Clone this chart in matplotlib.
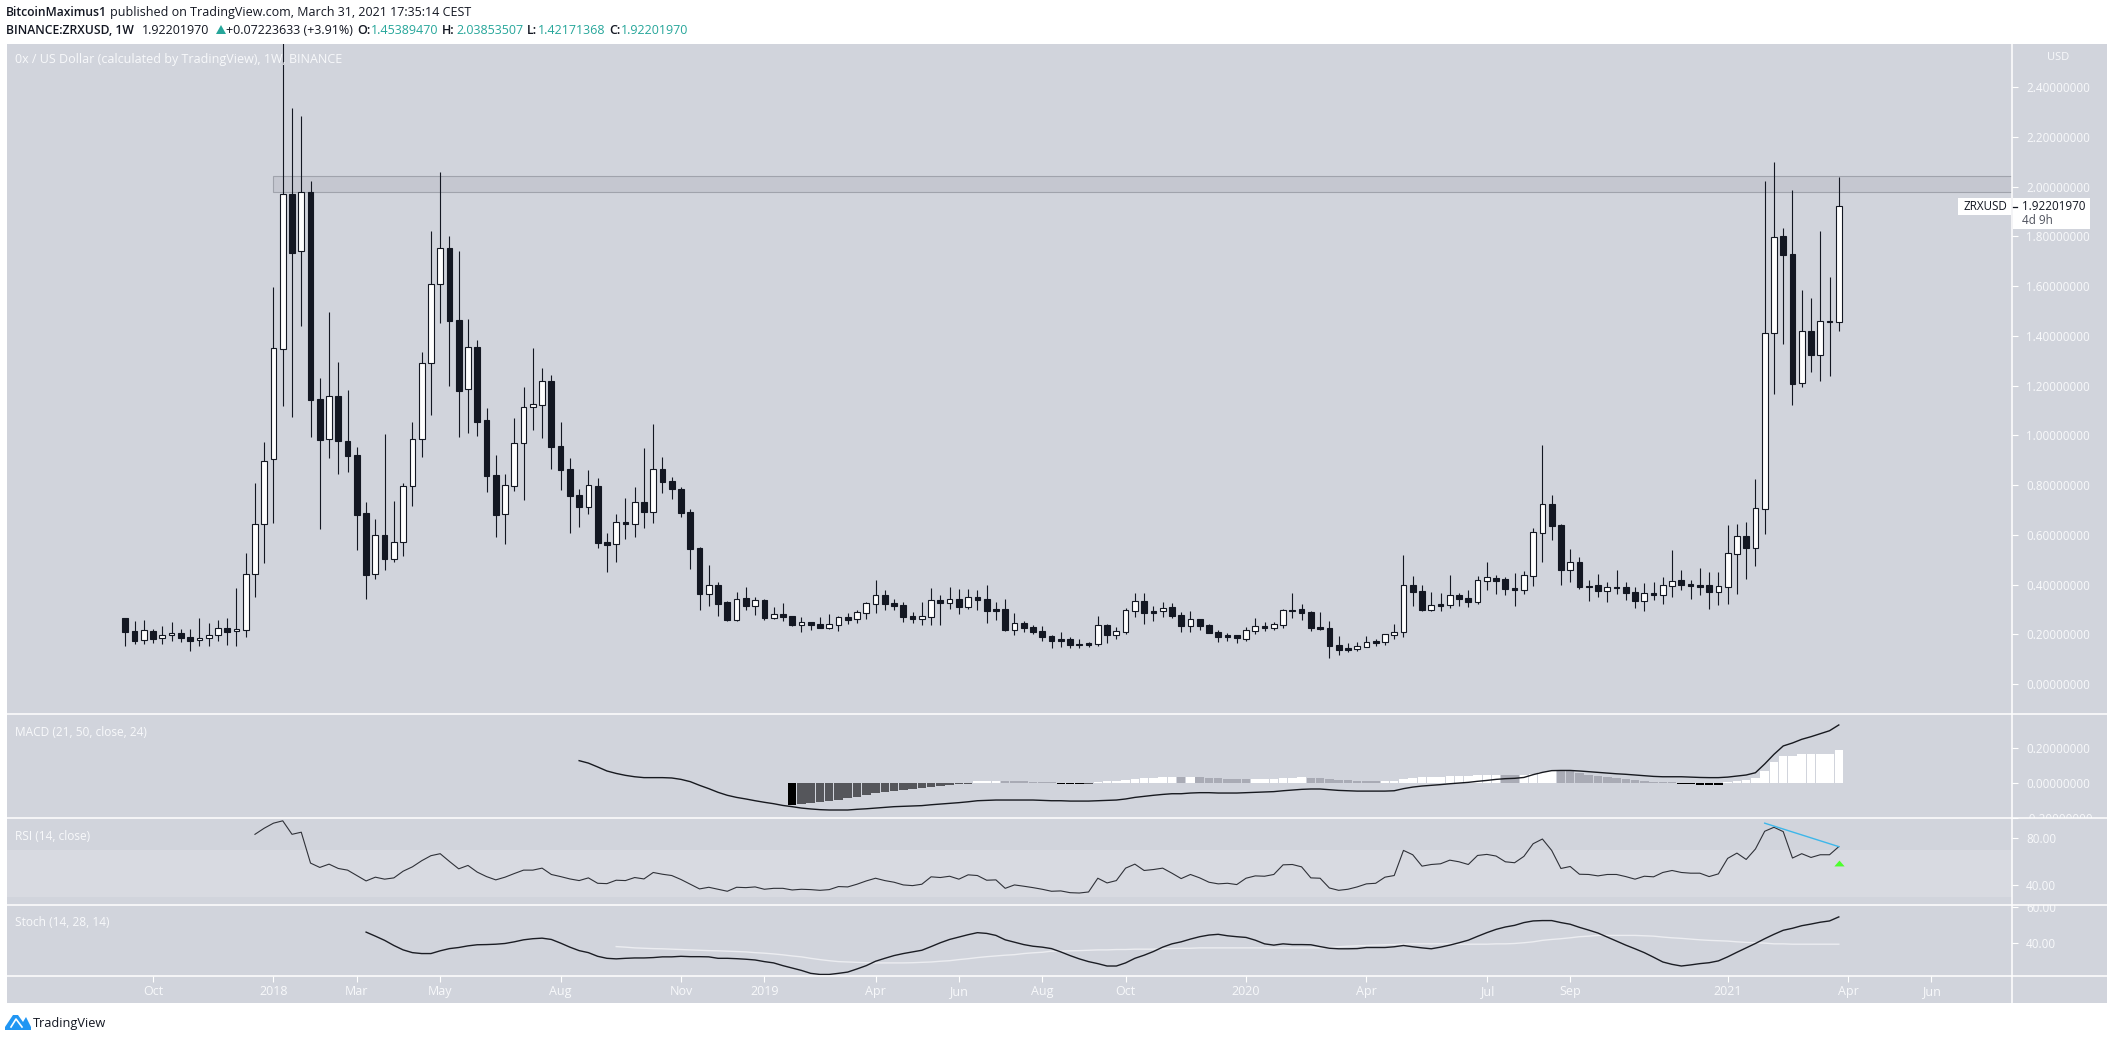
import matplotlib
matplotlib.use('Agg')
import matplotlib.pyplot as plt
from matplotlib.lines import Line2D
from matplotlib.patches import Rectangle, Polygon
from matplotlib.transforms import Bbox
import numpy as np

W, H = 2107, 1041
BG = '#D1D4DC'
DARK = '#131722'
SOFT = '#F8F9FB'
TEAL = '#26A69A'
plt.rcParams['font.family'] = ['Open Sans', 'DejaVu Sans']

# weekly candles, first one is the week of 11 Sep 2017
opens = [.2655,.212,.176,.213,.184,.196,.204,.188,.176,.184,
    .196,.224,.212,.216,.441,.642,.904,1.348,1.970,1.741,
    1.979,1.145,.984,1.157,.976,.920,.687,.441,.598,.504,
    .570,.795,.984,1.290,1.608,1.754,1.464,1.185,1.354,1.062,
    .840,.683,.798,.968,1.113,1.121,1.218,.956,.864,.759,
    .711,.797,.570,.562,.650,.642,.731,.693,.864,.817,
    .783,.691,.545,.361,.397,.330,.259,.345,.315,.337,
    .267,.282,.274,.239,.248,.240,.226,.239,.268,.263,
    .287,.323,.357,.325,.317,.274,.263,.271,.337,.327,
    .342,.310,.350,.341,.302,.300,.217,.244,.229,.213,
    .193,.181,.181,.161,.165,.162,.236,.197,.209,.295,
    .333,.294,.292,.310,.278,.233,.260,.237,.209,.197,
    .197,.182,.214,.233,.226,.239,.298,.302,.290,.229,
    .225,.157,.145,.142,.150,.173,.170,.198,.208,.398,
    .374,.299,.322,.319,.358,.346,.331,.416,.426,.422,
    .386,.379,.435,.608,.724,.640,.460,.491,.394,.398,
    .375,.390,.390,.370,.335,.366,.359,.395,.418,.402,
    .398,.398,.371,.391,.524,.595,.548,.705,1.411,1.802,
    1.730,1.212,1.420,1.325,1.459,1.4539]
closes = [.210,.174,.216,.182,.196,.204,.186,.174,.184,.196,
    .224,.210,.220,.441,.642,.896,1.352,1.970,1.735,1.978,
    1.144,.983,1.157,.979,.918,.681,.440,.598,.504,.570,
    .797,.984,1.290,1.608,1.753,1.461,1.180,1.354,1.055,.838,
    .681,.799,.968,1.113,1.125,1.218,.955,.862,.757,.713,
    .799,.568,.560,.650,.645,.731,.693,.864,.814,.786,
    .689,.544,.363,.397,.323,.257,.341,.315,.337,.266,
    .280,.270,.239,.248,.237,.225,.240,.268,.257,.288,
    .325,.357,.323,.314,.271,.263,.274,.337,.326,.341,
    .311,.349,.338,.294,.294,.217,.244,.225,.209,.189,
    .173,.173,.157,.157,.157,.236,.197,.212,.296,.333,
    .286,.286,.305,.274,.233,.260,.233,.205,.189,.189,
    .185,.216,.232,.225,.240,.296,.294,.287,.226,.221,
    .153,.137,.137,.152,.168,.165,.200,.208,.397,.370,
    .298,.317,.314,.357,.342,.330,.417,.429,.414,.382,
    .378,.437,.610,.723,.636,.459,.490,.390,.390,.374,
    .389,.386,.366,.334,.365,.358,.397,.413,.398,.394,
    .390,.370,.393,.526,.594,.547,.707,1.411,1.797,1.726,
    1.207,1.419,1.324,1.459,1.454,1.9220]
highs = [.2655,.253,.257,.220,.233,.249,.220,.220,.2655,.244,
    .257,.2655,.386,.526,.807,.972,1.597,2.60,2.318,2.285,
    2.024,1.230,1.497,1.294,1.181,.952,.731,.664,1.006,.736,
    .807,1.053,1.334,1.822,2.058,1.802,1.742,1.468,1.384,1.109,
    .920,.844,1.069,1.194,1.351,1.270,1.243,1.053,.908,.783,
    .860,.827,.607,.684,.747,.793,.949,1.046,.912,.833,
    .791,.703,.550,.479,.409,.333,.369,.389,.349,.342,
    .310,.325,.275,.268,.250,.268,.280,.274,.284,.296,
    .330,.418,.377,.341,.330,.290,.330,.386,.357,.390,
    .382,.382,.377,.398,.330,.341,.284,.252,.237,.233,
    .197,.209,.189,.181,.169,.274,.241,.229,.306,.366,
    .366,.314,.330,.326,.290,.294,.260,.241,.217,.205,
    .197,.229,.266,.249,.249,.302,.366,.322,.294,.290,
    .253,.193,.165,.169,.193,.181,.200,.241,.519,.434,
    .398,.370,.366,.438,.366,.378,.434,.491,.438,.430,
    .447,.455,.628,.961,.760,.644,.543,.511,.418,.443,
    .410,.459,.410,.390,.406,.410,.430,.539,.459,.418,
    .467,.451,.451,.640,.644,.652,.825,2.024,2.099,1.833,
    1.987,1.584,1.553,1.822,1.637,2.0385]
lows = [.154,.162,.162,.166,.162,.174,.170,.134,.154,.154,
    .174,.158,.154,.190,.351,.488,.646,1.120,1.075,1.441,
    .994,.625,.910,.846,.854,.539,.343,.424,.459,.491,
    .515,.717,.913,1.083,1.453,1.200,.994,1.010,.999,.774,
    .593,.564,.778,.741,1.023,.990,.865,.780,.609,.633,
    .685,.548,.452,.492,.585,.593,.629,.649,.770,.745,
    .673,.464,.298,.314,.275,.253,.253,.298,.278,.257,
    .262,.253,.233,.209,.217,.224,.221,.213,.241,.245,
    .262,.286,.298,.298,.249,.245,.237,.237,.237,.302,
    .282,.302,.298,.245,.257,.213,.197,.209,.201,.173,
    .145,.149,.145,.145,.149,.153,.165,.181,.201,.270,
    .241,.253,.270,.266,.209,.209,.217,.205,.169,.173,
    .165,.173,.201,.213,.217,.225,.266,.257,.213,.217,
    .105,.117,.129,.133,.150,.153,.157,.181,.189,.314,
    .294,.294,.294,.306,.314,.310,.322,.378,.362,.358,
    .314,.362,.394,.491,.579,.398,.410,.382,.334,.350,
    .330,.362,.338,.306,.294,.338,.322,.350,.378,.342,
    .358,.302,.318,.322,.362,.422,.475,.603,1.167,1.369,
    1.122,1.195,1.255,1.220,1.239,1.4217]

# MACD line starts at week 49, histogram at week 72
macd_start = 49
macd = [.126,.112,.090,.067,.053,.042,.034,.029,.029,.029,.027,.019,.006,-.015,-.034,-.055,-.072,-.084,-.093,-.103,
    -.112,-.120,-.130,-.137,-.145,-.150,-.154,-.156,-.156,-.156,-.152,-.149,-.145,-.141,
    -.137,-.135,-.133,-.131,-.126,-.122,-.118,-.114,-.109,-.103,-.101,-.099,-.099,-.099,-.099,-.099,
    -.101,-.103,-.103,-.105,-.105,-.105,-.103,-.101,-.099,-.093,-.084,-.078,-.072,-.067,-.063,-.063,-.059,-.057,-.057,
    -.059,-.059,-.059,-.057,-.055,-.053,-.051,-.046,-.042,-.038,-.036,-.036,-.040,-.044,-.046,-.048,-.048,-.048,-.048,
    -.046,-.034,-.025,-.019,-.015,-.011,-.006,-.002,.002,.008,.013,.019,.023,.025,.030,
    .046,.059,.069,.070,.070,.067,.063,.059,.055,.051,.048,.044,.040,.036,.034,.034,.034,.032,.030,.029,.029,
    .032,.038,.044,.057,.107,.162,.210,.227,.248,.263,.280,.297,.330]
hist_start = 72
hist = [-.128,-.122,-.116,-.110,-.105,-.099,-.088,-.082,-.070,-.061,-.053,-.048,-.042,-.036,-.030,-.025,-.019,-.013,-.008,-.006,
    .010,.010,.010,.010,.010,.010,.006,.006,.006,-.006,-.006,-.006,-.006,.006,.010,.010,.015,.021,.027,.027,
    .034,.034,.034,.034,.034,.027,.027,.021,.021,.021,.021,.021,.021,.027,.027,.034,.027,.027,.021,.015,
    .015,.010,.010,.010,.010,.010,.021,.027,.034,.034,.034,.040,.040,.040,.046,.046,.046,.046,.046,.046,
    .051,.059,.065,.065,.065,.053,.046,.040,.034,.027,.021,.015,.010,.006,.006,.006,-.006,-.006,-.011,-.011,-.011,
    .006,.010,.015,.027,.065,.118,.152,.152,.164,.164,.164,.164,.187]
hist_black_weeks = [72,101,102,103,168,169,170,171,172]
hist_grey_weeks = [95,96,97,98,99,100,114,116,117,118,119,120,121,128,129,130,131,132,133,134,135,149,150,
    155,156,157,158,159,160,161,162,163,164,165,166,167]

rsi_start = 14
rsi = [83.1,88.3,92.6,94.6,83.1,84.9,58.6,54.9,57.7,54.0,52.6,48.0,43.4,46.6,44.9,46.0,51.7,55.4,60.6,64.9,
    66.6,60.0,53.7,56.6,50.9,47.1,44.3,46.6,49.7,52.6,52.6,54.3,48.9,47.1,
    45.1,43.7,46.0,41.4,41.1,44.0,43.7,46.3,45.1,50.6,49.1,48.0,44.6,40.6,36.6,38.0,36.3,34.6,38.0,37.7,38.3,
    36.3,37.1,37.1,35.7,36.3,36.0,35.4,36.0,38.6,38.3,40.6,43.4,45.7,43.7,
    42.3,40.0,39.4,40.6,46.9,46.3,47.4,44.9,48.6,48.0,44.0,44.3,37.1,40.0,38.9,37.7,36.3,34.6,34.9,33.4,33.1,34.0,
    45.7,41.7,43.7,54.3,57.7,52.3,53.1,54.3,50.0,45.4,48.9,46.0,42.3,
    40.9,41.4,40.3,45.7,47.7,47.4,48.9,57.1,57.4,55.4,46.0,45.7,37.4,35.4,36.3,38.3,40.9,41.4,46.6,48.0,
    69.4,65.7,56.0,57.4,58.0,61.1,59.7,57.4,65.1,66.0,64.6,59.7,58.9,64.3,
    75.1,79.1,69.4,54.0,55.7,49.1,48.9,47.7,48.9,48.9,47.1,44.9,47.4,46.9,50.6,52.3,50.6,50.0,50.0,47.1,49.4,
    62.6,67.1,61.7,70.6,85.7,89.1,85.4,62.9,66.6,63.4,65.7,65.7,72.6]
rsi_trend_weeks = [177, 185]
rsi_trend_vals = [92.6, 72.6]

stoch_k_start = 26
stoch_k = [46.2,44.0,41.7,38.9,36.5,35.0,34.5,34.5,36.0,37.2,37.8,38.7,39.3,39.4,39.6,40.0,40.9,42.0,42.6,42.9,42.2,40.2,38.0,
    36.1,35.0,33.0,31.9,31.6,31.9,32.1,32.1,32.3,32.7,32.7,33.0,32.8,32.8,32.7,31.9,31.9,31.7,31.4,31.0,30.1,29.4,
    27.9,26.6,25.3,23.7,23.1,23.1,23.7,24.4,26.1,27.9,30.3,31.9,
    33.4,34.5,35.4,36.3,38.3,40.4,42.2,43.5,44.8,45.9,45.5,44.4,42.0,40.7,39.4,38.5,38.0,37.2,35.4,33.4,31.6,30.1,
    29.0,27.7,27.7,29.4,31.9,33.6,35.6,38.0,39.8,40.9,42.4,43.7,44.6,
    45.0,44.2,43.7,43.3,41.8,39.8,39.1,39.8,39.4,39.4,39.3,38.3,37.4,37.1,37.1,37.2,37.8,37.8,37.8,38.2,38.9,38.2,
    37.6,37.1,38.0,39.1,40.4,41.8,43.9,45.9,47.7,49.0,49.9,51.4,
    52.3,52.5,52.5,51.4,50.5,48.8,47.3,45.7,43.5,41.3,39.1,37.1,35.0,32.5,29.9,28.6,27.7,28.3,29.0,29.5,30.5,
    32.7,35.2,37.6,40.0,42.6,45.0,47.2,48.3,49.7,50.6,51.6,52.3,54.5]
stoch_d_start = 53
stoch_d = [38.3,38.0,37.6,37.4,37.2,37.1,36.9,36.7,36.5,36.3,36.1,36.0,35.8,35.6,35.4,35.0,34.7,34.3,33.8,33.2,
    32.7,31.9,31.2,30.6,30.1,29.9,29.7,29.5,29.4,29.4,
    29.4,29.4,29.5,29.7,29.9,30.3,30.6,31.2,31.7,32.3,32.8,33.2,33.6,33.9,34.5,34.9,35.2,35.8,35.8,36.0,
    36.1,36.3,36.5,36.5,36.7,36.7,36.9,36.9,36.9,37.1,37.2,37.4,37.4,37.6,37.6,
    37.6,37.6,37.6,37.6,37.6,37.6,37.6,37.6,37.6,37.6,37.6,37.6,37.8,38.2,38.5,38.7,38.9,39.1,39.3,39.4,39.6,
    39.8,39.8,39.8,39.8,39.8,39.6,39.6,39.6,39.6,39.8,39.8,40.0,40.4,
    40.9,41.7,42.2,42.6,43.1,43.7,44.0,44.4,44.4,44.4,44.4,44.4,44.2,44.0,43.5,43.1,42.8,42.4,42.0,41.7,41.5,
    41.3,40.9,40.6,40.4,40.2,39.8,39.8,39.6,39.6,39.6,39.6,39.6,39.6]

# resistance box, price range
zone_low, zone_high = 1.980, 2.043
zone_start = 16

price_ticks = [0, .2, .4, .6, .8, 1.0, 1.2, 1.4, 1.6, 1.8, 2.0, 2.2, 2.4]
macd_ticks = [-.2, 0, .2]
rsi_ticks = [40, 80]
stoch_ticks = [40, 60]
date_weeks = [3, 16, 25, 34, 47, 60, 69, 81, 90, 99, 108, 121, 134, 147, 156, 173, 186, 195]
date_labels = ['Oct', '2018', 'Mar', 'May', 'Aug', 'Nov', '2019', 'Apr', 'Jun', 'Aug', 'Oct',
    '2020', 'Apr', 'Jul', 'Sep', '2021', 'Apr', 'Jun']

weeks = np.arange(len(opens))
opens, closes, highs, lows = map(np.asarray, (opens, closes, highs, lows))

fig = plt.figure(figsize=(W / 100, H / 100), dpi=100, facecolor='white')


def px_axes(left, top, right, bottom):
    return fig.add_axes([left / W, 1 - bottom / H, (right - left) / W, (bottom - top) / H], facecolor=BG)


def px_text(x, y, s, **kw):
    kw.setdefault('va', 'center')
    kw.setdefault('fontsize', 9)
    return fig.text(x / W, 1 - y / H, s, **kw)


def style_axis(ax, ylim, yticks, fmt, top, bottom):
    ax.set_xlim(-12.77, 203.7)
    ax.set_ylim(*ylim)
    for side in ax.spines:
        ax.spines[side].set_visible(False)
    ax.yaxis.tick_right()
    ax.set_yticks(yticks)
    ax.set_yticklabels([fmt % v for v in yticks])
    ax.tick_params(axis='y', length=4, width=0.8, color='white', labelcolor=SOFT, labelsize=8.4, pad=6)
    ax.set_xticks([])
    # labels on the pane border get cut off like in the app
    clip = Bbox.from_extents(2013, H - bottom, W, H - top)
    for tick in ax.yaxis.get_major_ticks():
        tick.label2.set_clip_box(clip)
        tick.label2.set_clip_on(True)


fig.add_artist(Rectangle((7 / W, 1 - 1003 / H), (W - 7) / W, (1003 - 44) / H, transform=fig.transFigure,
    facecolor=BG, edgecolor='none', zorder=-5))

# price pane
ax = px_axes(7, 44, 2012, 714)
style_axis(ax, (-.1207, 2.574), price_ticks, '%.8f', 44, 714)
ax.add_patch(Rectangle((zone_start, zone_low), 205 - zone_start, zone_high - zone_low, facecolor='#C5C7D0',
    edgecolor='#A0A3AC', linewidth=0.8, zorder=1))
ax.vlines(weeks, lows, highs, color=DARK, linewidth=0.8, zorder=2)
up = closes > opens
body_bottom = np.minimum(opens, closes)
body_height = np.abs(closes - opens)
ax.bar(weeks[up], body_height[up], bottom=body_bottom[up], width=0.62, color='white', edgecolor=DARK, linewidth=0.8, zorder=3)
ax.bar(weeks[~up], body_height[~up], bottom=body_bottom[~up], width=0.62, color=DARK, edgecolor=DARK, linewidth=0.8, zorder=3)

# MACD pane
ax_macd = px_axes(7, 714, 2012, 818)
style_axis(ax_macd, (-.2017, .3926), macd_ticks, '%.8f', 714, 818)
hist_weeks = np.arange(hist_start, hist_start + len(hist))
hist_colors = []
for wk, val in zip(hist_weeks, hist):
    if wk in hist_black_weeks:
        hist_colors.append('#000000')
    elif wk in hist_grey_weeks:
        hist_colors.append('#A9ABB5')
    elif val < 0:
        hist_colors.append('#55565B')
    else:
        hist_colors.append('#FFFFFF')
ax_macd.bar(hist_weeks, hist, width=0.92, color=hist_colors, zorder=2)
ax_macd.plot(np.arange(macd_start, macd_start + len(macd)), macd, color='#17191F', linewidth=1.0, zorder=3)

# RSI pane
ax_rsi = px_axes(7, 818, 2012, 905)
style_axis(ax_rsi, (22.9, 97), rsi_ticks, '%.2f', 818, 905)
ax_rsi.axhspan(30, 70, color='#D8DAE1', linewidth=0, zorder=1)
ax_rsi.plot(np.arange(rsi_start, rsi_start + len(rsi)), rsi, color='#2F3138', linewidth=0.8, zorder=3)
ax_rsi.plot(rsi_trend_weeks, rsi_trend_vals, color='#3DB7EA', linewidth=1.0, zorder=4)
ax_rsi.plot([185], [58.7], marker=[(-1, -.57), (1, -.57), (0, .57)], markersize=7.4, color='#4CFF2C',
    linestyle='none', markeredgewidth=0, zorder=4)

# Stoch pane
ax_stoch = px_axes(7, 905, 2012, 976)
style_axis(ax_stoch, (22.25, 61), stoch_ticks, '%.2f', 905, 976)
ax_stoch.plot(np.arange(stoch_d_start, stoch_d_start + len(stoch_d)), stoch_d, color='#ECEDF1', linewidth=1.0, zorder=2)
ax_stoch.plot(np.arange(stoch_k_start, stoch_k_start + len(stoch_k)), stoch_k, color='#1B1D24', linewidth=1.0, zorder=3)

# time axis strip
ax_time = px_axes(7, 976, 2012, 1003)
ax_time.set_xlim(-12.77, 203.7)
ax_time.set_yticks([])
for side in ax_time.spines:
    ax_time.spines[side].set_visible(False)
ax_time.set_xticks(date_weeks)
ax_time.set_xticklabels(date_labels)
ax_time.xaxis.tick_top()
ax_time.tick_params(axis='x', direction='in', length=4, width=0.8, color='white', labelcolor=SOFT, labelsize=9, pad=0)
for lbl in ax_time.get_xticklabels():
    lbl.set_transform(ax_time.get_xaxis_transform())
    lbl.set_y(0.42)
    lbl.set_va('center')
ax_time.patch.set_alpha(0)

# pane separators
for y in (714, 818, 905, 976):
    fig.add_artist(Line2D([7 / W, 1], [1 - y / H, 1 - y / H], color='white', linewidth=1.1, transform=fig.transFigure, zorder=6))
fig.add_artist(Line2D([2012 / W, 2012 / W], [1 - 44 / H, 1 - 1003 / H], color='white', linewidth=1.1, transform=fig.transFigure, zorder=6))

# last price label
fig.add_artist(Rectangle((1958 / W, 1 - 215 / H), 53 / W, 17 / H, transform=fig.transFigure, facecolor='white', edgecolor='none', zorder=7))
fig.add_artist(Rectangle((2013 / W, 1 - 229 / H), 77 / W, 31 / H, transform=fig.transFigure, facecolor='white', edgecolor='none', zorder=7))
fig.add_artist(Line2D([2013 / W, 2017 / W], [1 - 206.5 / H, 1 - 206.5 / H], color=DARK, linewidth=0.9, transform=fig.transFigure, zorder=8))
px_text(1964, 206.5, 'ZRXUSD', color=DARK, fontsize=8.4, zorder=8)
px_text(2022, 206.5, '1.92201970', color=DARK, fontsize=8.4, zorder=8)
px_text(2022, 221, '4d 9h', color='#50535E', fontsize=8.4, zorder=8)
px_text(2047, 58, 'USD', color=SOFT, fontsize=8)

# pane titles
px_text(15, 60, '0x / US Dollar (calculated by TradingView), 1W, BINANCE', color=SOFT, fontsize=9)
px_text(15, 732, 'MACD (21, 50, close, 24)', color=SOFT, fontsize=8.6)
px_text(15, 836, 'RSI (14, close)', color=SOFT, fontsize=8.6)
px_text(15, 922, 'Stoch (14, 28, 14)', color=SOFT, fontsize=8.6)

# publish header
px_text(6, 12.5, 'BitcoinMaximus1', color=DARK, fontweight='semibold', fontsize=8.7)
px_text(110, 12.5, 'published on TradingView.com, March 31, 2021 17:35:14 CEST', color=DARK)
px_text(6, 30, 'BINANCE:ZRXUSD, 1W', color=DARK, fontweight='semibold', fontsize=8.7)
px_text(142, 30, '1.92201970', color=DARK)
fig.add_artist(Polygon([(216 / W, 1 - 34 / H), (226 / W, 1 - 34 / H), (221 / W, 1 - 25 / H)], transform=fig.transFigure, facecolor=TEAL, edgecolor='none'))
px_text(226, 30, '+0.07223633 (+3.91%)', color=DARK)
for lx, vx, key, val in [(357, 371, 'O:', '1.45389470'), (442, 456, 'H:', '2.03853507'),
                         (527, 538, 'L:', '1.42171368'), (609, 621, 'C:', '1.92201970')]:
    px_text(lx, 30, key, color=DARK, fontweight='semibold')
    px_text(vx, 30, val, color=TEAL)

# footer logo, blue mark and name
logo = [(5, 1030), (5, 1027), (13, 1015), (18, 1015), (23, 1022), (26, 1017), (31, 1027), (31, 1030)]
fig.add_artist(Polygon([(x / W, 1 - y / H) for x, y in logo], transform=fig.transFigure, facecolor='#2196F3', edgecolor='none'))
fig.add_artist(Line2D([11 / W, 16 / W, 22 / W], [1 - 1027 / H, 1 - 1019 / H, 1 - 1027 / H], color='white', linewidth=1.2, transform=fig.transFigure))
px_text(33, 1023, 'TradingView', color=DARK, fontsize=9.2)

fig.savefig('out.png', dpi=100)
